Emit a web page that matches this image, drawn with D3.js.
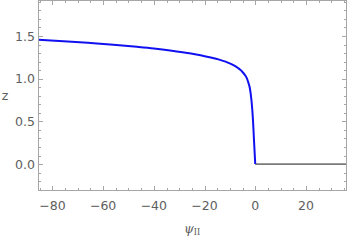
<!DOCTYPE html>
<html>
<head>
<meta charset="utf-8">
<script src="https://cdn.jsdelivr.net/npm/d3@7"></script>
<style>
  html, body { margin: 0; padding: 0; background: #fff; }
  svg { display: block; }
</style>
</head>
<body>
<svg id="chart" width="347" height="247"></svg>
<script>
// ---- data ----
const psiValues = [-85.5, -75.6, -66.0, -56.0, -46.7, -40.0, -33.6, -28.0, -23.8, -19.5, -15.9, -13.0, -10.8, -8.6, -6.8, -5.3, -4.1, -3.3, -2.8, -2.1, -1.5, -0.9, -0.5, 0];
const zValues   = [1.457, 1.440, 1.420, 1.398, 1.373, 1.353, 1.330, 1.306, 1.286, 1.261, 1.236, 1.212, 1.189, 1.158, 1.125, 1.088, 1.045, 1.003, 0.962, 0.885, 0.750, 0.520, 0.285, 0];
const psiFlat = [0, 36];
const zFlat   = [0, 0];
const xTickValues = [-80, -60, -40, -20, 0, 20];
const xTickLabels = ["\u221280", "\u221260", "\u221240", "\u221220", "0", "20"];
const yTickValues = [0.0, 0.5, 1.0, 1.5];
const yTickLabels = ["0.0", "0.5", "1.0", "1.5"];
const xDomain = [-85.5, 36];
const yDomain = [-0.31, 1.916];

// ---- layout ----
const svg = d3.select("#chart");
const L = 38.5, R = 346.5, T = 0.5, B = 190.5;
const x = d3.scaleLinear().domain(xDomain).range([L, R]);
const y = d3.scaleLinear().domain(yDomain).range([B, T]);
const frameColor = "#a6a6a6";
const textColor = "#5e5e5e";

const defs = svg.append("defs");
defs.append("clipPath").attr("id", "clip")
  .append("rect").attr("x", L).attr("y", T).attr("width", R - L).attr("height", B - T);

// minor/major ticks
const xMinor = d3.range(-85, 37, 5).filter(v => v % 20 !== 0);
const yMinor = d3.range(-3, 20, 1).map(v => v / 10).filter(v => Math.abs((v * 10) % 5) > 1e-6);

const tickG = svg.append("g").attr("stroke", frameColor).attr("stroke-width", 1);
function xTick(v, len) {
  const px = Math.round(x(v)) + 0.5;
  tickG.append("line").attr("x1", px).attr("x2", px).attr("y1", B).attr("y2", B - len);
  tickG.append("line").attr("x1", px).attr("x2", px).attr("y1", T).attr("y2", T + len);
}
function yTick(v, len) {
  const py = Math.round(y(v)) + 0.5;
  tickG.append("line").attr("y1", py).attr("y2", py).attr("x1", L).attr("x2", L + len);
  tickG.append("line").attr("y1", py).attr("y2", py).attr("x1", R).attr("x2", R - len);
}
xTickValues.forEach(v => xTick(v, 4.5));
xMinor.forEach(v => { if (v > xDomain[0] && v < xDomain[1]) xTick(v, 2.5); });
yTickValues.forEach(v => yTick(v, 4.5));
yMinor.forEach(v => { if (v > yDomain[0] && v < yDomain[1]) yTick(v, 2.5); });

// curves
const line = d3.line().x(d => x(d[0])).y(d => y(d[1])).curve(d3.curveMonotoneX);
const plotG = svg.append("g").attr("clip-path", "url(#clip)");
plotG.append("path")
  .datum(psiFlat.map((v, i) => [v, zFlat[i]]))
  .attr("d", d3.line().x(d => x(d[0])).y(d => y(d[1])))
  .attr("fill", "none").attr("stroke", "#7a7a7a").attr("stroke-width", 1.7);
plotG.append("path")
  .datum(psiValues.map((v, i) => [v, zValues[i]]))
  .attr("d", line)
  .attr("fill", "none").attr("stroke", "#1010f0").attr("stroke-width", 2)
  .attr("stroke-linejoin", "round");

// frame
svg.append("rect").attr("x", L).attr("y", T).attr("width", R - L).attr("height", B - T)
  .attr("fill", "none").attr("stroke", frameColor).attr("stroke-width", 1);

// tick labels
const font = "'DejaVu Sans', sans-serif";
svg.append("g").selectAll("text").data(xTickValues).join("text")
  .attr("x", d => x(d)).attr("y", 210)
  .attr("text-anchor", "middle")
  .attr("font-family", font).attr("font-size", 12.5).attr("fill", textColor)
  .text((d, i) => xTickLabels[i]);
svg.append("g").selectAll("text").data(yTickValues).join("text")
  .attr("x", 35).attr("y", d => y(d) + 4.5)
  .attr("text-anchor", "end")
  .attr("font-family", font).attr("font-size", 12.5).attr("fill", textColor)
  .text((d, i) => yTickLabels[i]);

// axis labels
svg.append("text").attr("x", 5).attr("y", 100).attr("text-anchor", "middle")
  .attr("font-family", font).attr("font-size", 12.5).attr("fill", textColor).text("z");
const xl = svg.append("text").attr("x", 192).attr("y", 233).attr("text-anchor", "middle")
  .attr("fill", textColor);
xl.append("tspan").attr("font-family", "'DejaVu Serif', serif").attr("font-style", "italic")
  .attr("font-size", 12.5).text("\u03C8");
xl.append("tspan").attr("font-family", "'Liberation Serif', serif")
  .attr("font-size", 9.5).attr("dy", 2).text("II");
</script>
</body>
</html>
